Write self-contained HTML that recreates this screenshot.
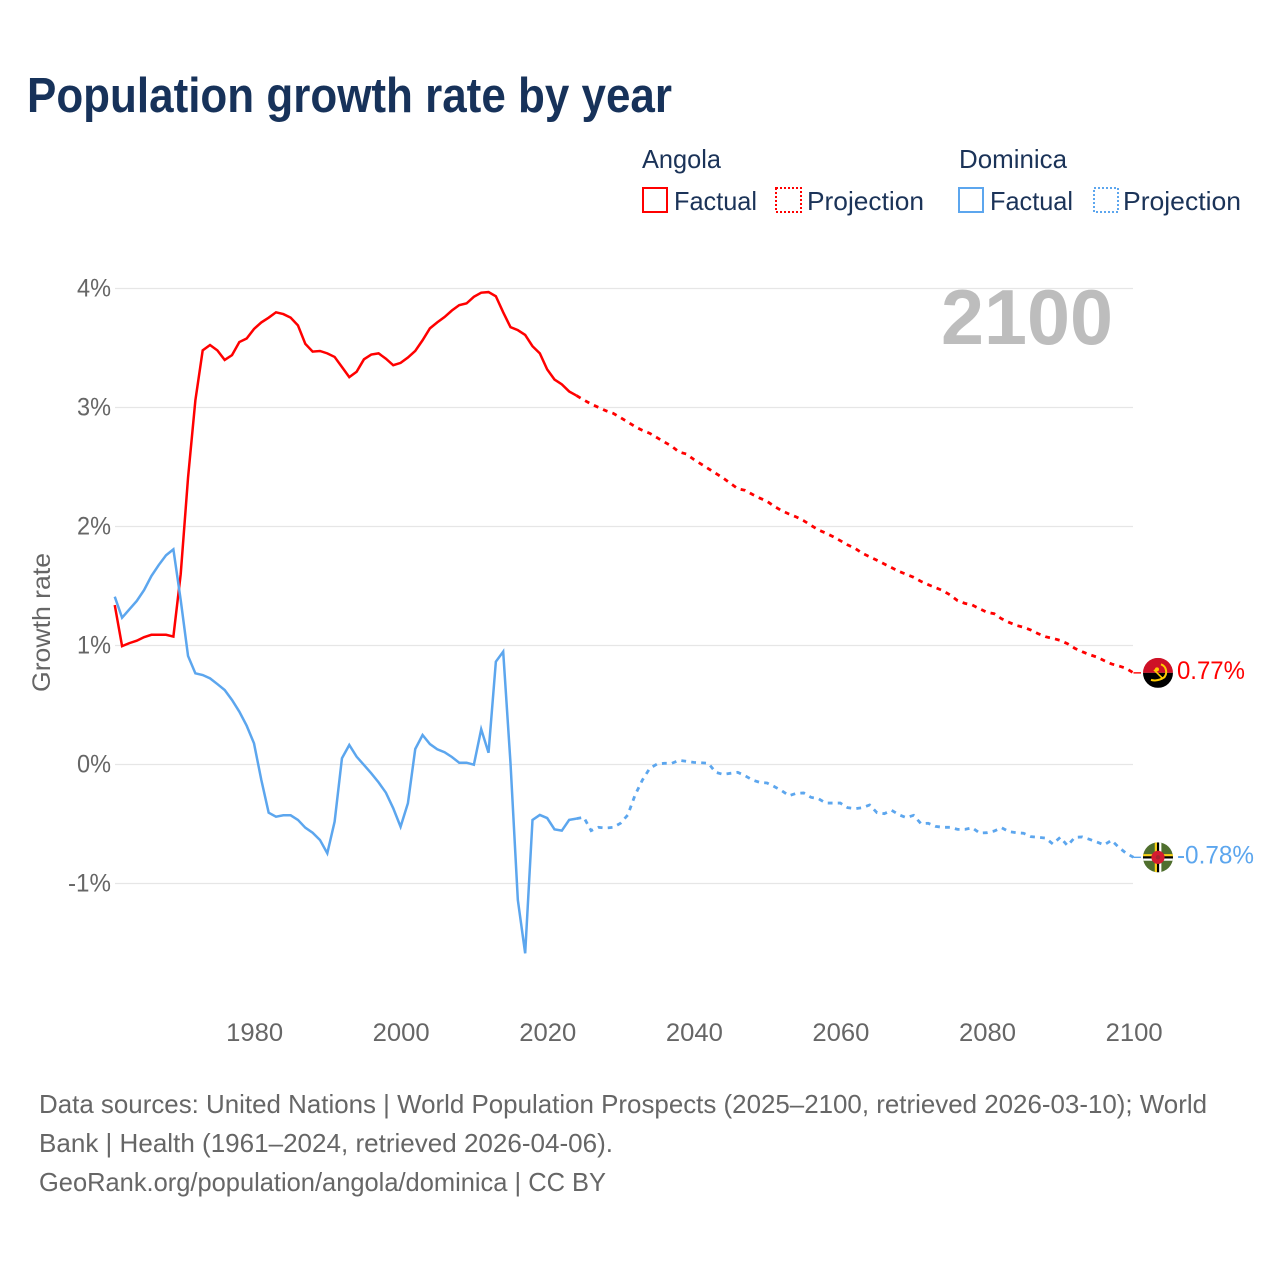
<!DOCTYPE html>
<html lang="en">
<head>
<meta charset="utf-8">
<title>Population growth rate by year</title>
<style>
  html, body { margin: 0; padding: 0; background: #fff; }
  svg { display: block; font-family: "Liberation Sans", sans-serif; }
</style>
</head>
<body>
<svg id="chart" xmlns="http://www.w3.org/2000/svg" width="1280" height="1280" viewBox="0 0 1280 1280">
  <rect x="0" y="0" width="1280" height="1280" fill="#ffffff"/>
  <text x="27" y="112" font-size="49" font-weight="700" fill="#17325a" textLength="645" lengthAdjust="spacingAndGlyphs">Population growth rate by year</text>

  <g font-size="26" fill="#1b3358">
    <text x="642" y="168" textLength="79" lengthAdjust="spacingAndGlyphs">Angola</text>
    <text x="959" y="168" textLength="108" lengthAdjust="spacingAndGlyphs">Dominica</text>
    <g>
      <rect x="643" y="188" width="24" height="24" fill="none" stroke="#ff0000" stroke-width="2"/>
      <text x="674" y="210" textLength="83" lengthAdjust="spacingAndGlyphs">Factual</text>
    </g>
    <g>
      <rect x="776" y="188" width="25" height="24" fill="none" stroke="#ff0000" stroke-width="2" stroke-dasharray="2 2"/>
      <text x="807" y="210" textLength="117" lengthAdjust="spacingAndGlyphs">Projection</text>
    </g>
    <g>
      <rect x="959" y="188" width="24" height="24" fill="none" stroke="#5ca6ee" stroke-width="2"/>
      <text x="990" y="210" textLength="83" lengthAdjust="spacingAndGlyphs">Factual</text>
    </g>
    <g>
      <rect x="1094" y="188" width="24" height="24" fill="none" stroke="#5ca6ee" stroke-width="2" stroke-dasharray="2 2"/>
      <text x="1123" y="210" textLength="118" lengthAdjust="spacingAndGlyphs">Projection</text>
    </g>
  </g>

  <g id="grid"></g>
  <g id="yticks" font-size="25" fill="#666666" text-anchor="end"></g>
  <g id="xticks" font-size="25" fill="#666666" text-anchor="middle"></g>
  <text transform="translate(50 622.5) rotate(-90)" text-anchor="middle" font-size="25" fill="#666666" textLength="139" lengthAdjust="spacingAndGlyphs">Growth rate</text>

  <text x="941" y="344" font-size="78" font-weight="700" fill="#bdbdbd" textLength="172" lengthAdjust="spacingAndGlyphs">2100</text>

  <g id="series"></g>

  <defs>
    <clipPath id="flag-clip"><circle cx="0" cy="0" r="15"/></clipPath>
  </defs>
  <g id="flag-angola" clip-path="url(#flag-clip)">
    <rect x="-15" y="-15" width="30" height="15" fill="#ce1126"/>
    <rect x="-15" y="0" width="30" height="15" fill="#000000"/>
    <path d="M3 -8.5 A8 8 0 0 1 5.5 5" fill="none" stroke="#ffcb00" stroke-width="2"/>
    <path d="M-7 7 Q0 9 7 4" fill="none" stroke="#ffcb00" stroke-width="2"/>
    <path d="M-4 -3 L4 5" stroke="#ffcb00" stroke-width="1.6"/>
    <circle cx="-1" cy="-3.5" r="2" fill="#ffcb00"/>
  </g>
  <g id="flag-dominica" clip-path="url(#flag-clip)">
    <rect x="-15" y="-15" width="30" height="30" fill="#4f6f2e"/>
    <rect x="-15" y="-3.2" width="30" height="2.2" fill="#fcd116"/>
    <rect x="-15" y="-1" width="30" height="2.2" fill="#000000"/>
    <rect x="-15" y="1.2" width="30" height="2.2" fill="#ffffff"/>
    <rect x="-3.2" y="-15" width="2.2" height="30" fill="#fcd116"/>
    <rect x="-1" y="-15" width="2.2" height="30" fill="#000000"/>
    <rect x="1.2" y="-15" width="2.2" height="30" fill="#ffffff"/>
    <circle cx="0" cy="0" r="6.6" fill="#d41c30"/>
    <circle cx="0" cy="0" r="2.2" fill="#a8232f"/>
  </g>
  <text id="label-angola" font-size="25" fill="#ff0000" textLength="68" lengthAdjust="spacingAndGlyphs"></text>
  <text id="label-dominica" font-size="25" fill="#5ca6ee" textLength="77" lengthAdjust="spacingAndGlyphs"></text>

  <g font-size="26" fill="#666666">
    <text x="39" y="1113" textLength="1168" lengthAdjust="spacingAndGlyphs">Data sources: United Nations | World Population Prospects (2025–2100, retrieved 2026-03-10); World</text>
    <text x="39" y="1152" textLength="574" lengthAdjust="spacingAndGlyphs">Bank | Health (1961–2024, retrieved 2026-04-06).</text>
    <text x="39" y="1191" textLength="567" lengthAdjust="spacingAndGlyphs">GeoRank.org/population/angola/dominica | CC BY</text>
  </g>
</svg>

<script>
const factualStartYear = 1961;
const projectionStartYear = 2025;
const yTickValues = [4, 3, 2, 1, 0, -1];
const yTickLabels = ["4%", "3%", "2%", "1%", "0%", "-1%"];
const xTickYears = [1980, 2000, 2020, 2040, 2060, 2080, 2100];
const xTickLabels = ["1980", "2000", "2020", "2040", "2060", "2080", "2100"];
const endLabelAngola = "0.77%";
const endLabelDominica = "-0.78%";

const angolaFactual = [
  1.34, 0.995, 1.02, 1.04, 1.07, 1.09, 1.09, 1.09, 1.075, 1.60,
  2.41, 3.06, 3.48, 3.525, 3.48, 3.40, 3.44, 3.55, 3.58, 3.66,
  3.715, 3.755, 3.80, 3.785, 3.755, 3.69, 3.535, 3.47, 3.475, 3.455,
  3.425, 3.34, 3.255, 3.30, 3.405, 3.445, 3.455, 3.41, 3.355, 3.375,
  3.42, 3.475, 3.565, 3.665, 3.715, 3.76, 3.815, 3.86, 3.875, 3.93,
  3.965, 3.97, 3.935, 3.80, 3.675, 3.65, 3.61, 3.515, 3.455, 3.32,
  3.235, 3.195, 3.135, 3.10
];
const angolaProjection = [
  3.063, 3.029, 3.001, 2.973, 2.951, 2.915, 2.878, 2.839, 2.808, 2.783,
  2.746, 2.710, 2.674, 2.626, 2.609, 2.564, 2.525, 2.486, 2.447, 2.408,
  2.363, 2.318, 2.304, 2.270, 2.239, 2.212, 2.169, 2.133, 2.105, 2.080,
  2.049, 2.010, 1.971, 1.945, 1.915, 1.881, 1.845, 1.817, 1.775, 1.746,
  1.716, 1.685, 1.654, 1.623, 1.598, 1.573, 1.539, 1.511, 1.486, 1.461,
  1.424, 1.377, 1.354, 1.340, 1.309, 1.279, 1.267, 1.225, 1.195, 1.169,
  1.153, 1.130, 1.099, 1.074, 1.060, 1.043, 1.015, 0.976, 0.948, 0.923,
  0.903, 0.873, 0.845, 0.828, 0.808, 0.77
];
const dominicaFactual = [
  1.41, 1.234, 1.304, 1.374, 1.466, 1.584, 1.676, 1.758, 1.808, 1.382,
  0.912, 0.766, 0.752, 0.724, 0.676, 0.626, 0.542, 0.444, 0.326, 0.178,
  -0.13, -0.405, -0.439, -0.427, -0.427, -0.466, -0.531, -0.573, -0.634, -0.746,
  -0.48, 0.052, 0.164, 0.066, -0.004, -0.074, -0.15, -0.237, -0.368, -0.523,
  -0.326, 0.13, 0.248, 0.172, 0.128, 0.103, 0.063, 0.015, 0.015, -0.002,
  0.296, 0.099, 0.864, 0.948, 0.01, -1.139, -1.587, -0.466, -0.424, -0.45,
  -0.545, -0.556, -0.466, -0.455
];
const dominicaProjection = [
  -0.444, -0.556, -0.528, -0.534, -0.528, -0.494, -0.424, -0.256, -0.130, -0.032,
  0.004, 0.01, 0.01, 0.035, 0.027, 0.018, 0.015, 0.01, -0.066, -0.083,
  -0.074, -0.066, -0.094, -0.130, -0.150, -0.155, -0.186, -0.220, -0.262, -0.242,
  -0.239, -0.276, -0.287, -0.324, -0.324, -0.324, -0.363, -0.371, -0.363, -0.340,
  -0.405, -0.413, -0.385, -0.422, -0.447, -0.427, -0.497, -0.494, -0.520, -0.528,
  -0.528, -0.545, -0.545, -0.531, -0.576, -0.573, -0.559, -0.531, -0.564, -0.573,
  -0.578, -0.606, -0.612, -0.618, -0.668, -0.612, -0.682, -0.612, -0.609, -0.629,
  -0.651, -0.676, -0.637, -0.696, -0.746, -0.78
];

const SVG_NS = "http://www.w3.org/2000/svg";
const RED = "#ff0000";
const BLUE = "#5ca6ee";
function xScale(year) { return 254 + (year - 1980) * 7.329; }
function yScale(value) { return 764.5 - value * 119; }

const gridGroup = document.getElementById("grid");
const yTickGroup = document.getElementById("yticks");
const xTickGroup = document.getElementById("xticks");
const seriesGroup = document.getElementById("series");

yTickValues.forEach(function (value, i) {
  const line = document.createElementNS(SVG_NS, "line");
  
  
  line.setAttribute("x1", 115);
  line.setAttribute("x2", 1133);
  line.setAttribute("y1", yScale(value));
  line.setAttribute("y2", yScale(value));
  line.setAttribute("stroke", "#e6e6e6");
  line.setAttribute("stroke-width", 1.2);
  gridGroup.appendChild(line);

  const label = document.createElementNS(SVG_NS, "text");
  
  
  label.setAttribute("x", 111);
  label.setAttribute("y", yScale(value) + 8);
  label.setAttribute("textLength", yTickLabels[i].length === 3 ? 43 : 34);
  label.setAttribute("lengthAdjust", "spacingAndGlyphs");
  label.textContent = yTickLabels[i];
  yTickGroup.appendChild(label);
});

xTickYears.forEach(function (year, i) {
  const label = document.createElementNS(SVG_NS, "text");
  
  
  label.setAttribute("x", xScale(year) + 0.6);
  label.setAttribute("y", 1041);
  label.setAttribute("textLength", 57);
  label.setAttribute("lengthAdjust", "spacingAndGlyphs");
  label.textContent = xTickLabels[i];
  xTickGroup.appendChild(label);
});

function buildPath(startYear, values, priorYear, priorValue) {
  let d = "";
  if (priorYear !== null) {
    d = "M" + xScale(priorYear).toFixed(2) + " " + yScale(priorValue).toFixed(2);
  }
  values.forEach(function (value, i) {
    const cmd = d === "" ? "M" : "L";
    d += cmd + xScale(startYear + i).toFixed(2) + " " + yScale(value).toFixed(2);
  });
  return d;
}

const angolaSolid = document.createElementNS(SVG_NS, "path");


angolaSolid.setAttribute("d", buildPath(factualStartYear, angolaFactual, null, null));
angolaSolid.setAttribute("fill", "none");
angolaSolid.setAttribute("stroke", RED);
angolaSolid.setAttribute("stroke-width", 2.5);
seriesGroup.appendChild(angolaSolid);

const angolaDashed = document.createElementNS(SVG_NS, "path");


angolaDashed.setAttribute("d", buildPath(projectionStartYear, angolaProjection, projectionStartYear - 1, angolaFactual[angolaFactual.length - 1]));
angolaDashed.setAttribute("fill", "none");
angolaDashed.setAttribute("stroke", RED);
angolaDashed.setAttribute("stroke-width", 2.8);
angolaDashed.setAttribute("stroke-dasharray", "4.8 5.2");
seriesGroup.appendChild(angolaDashed);

const dominicaSolid = document.createElementNS(SVG_NS, "path");


dominicaSolid.setAttribute("d", buildPath(factualStartYear, dominicaFactual, null, null));
dominicaSolid.setAttribute("fill", "none");
dominicaSolid.setAttribute("stroke", BLUE);
dominicaSolid.setAttribute("stroke-width", 2.5);
seriesGroup.appendChild(dominicaSolid);

const dominicaDashed = document.createElementNS(SVG_NS, "path");


dominicaDashed.setAttribute("d", buildPath(projectionStartYear, dominicaProjection, projectionStartYear - 1, dominicaFactual[dominicaFactual.length - 1]));
dominicaDashed.setAttribute("fill", "none");
dominicaDashed.setAttribute("stroke", BLUE);
dominicaDashed.setAttribute("stroke-width", 2.8);
dominicaDashed.setAttribute("stroke-dasharray", "4.8 5.2");
seriesGroup.appendChild(dominicaDashed);

const lastYear = projectionStartYear + angolaProjection.length - 1;
const angolaEndY = yScale(angolaProjection[angolaProjection.length - 1]);
const dominicaEndY = yScale(dominicaProjection[dominicaProjection.length - 1]);

const angolaLeader = document.createElementNS(SVG_NS, "line");


angolaLeader.setAttribute("x1", xScale(lastYear));
angolaLeader.setAttribute("x2", xScale(lastYear) + 7.5);
angolaLeader.setAttribute("y1", angolaEndY);
angolaLeader.setAttribute("y2", angolaEndY);
angolaLeader.setAttribute("stroke", RED);
angolaLeader.setAttribute("stroke-width", 1.4);
seriesGroup.appendChild(angolaLeader);

const dominicaLeader = document.createElementNS(SVG_NS, "line");


dominicaLeader.setAttribute("x1", xScale(lastYear));
dominicaLeader.setAttribute("x2", xScale(lastYear) + 7.5);
dominicaLeader.setAttribute("y1", dominicaEndY);
dominicaLeader.setAttribute("y2", dominicaEndY);
dominicaLeader.setAttribute("stroke", BLUE);
dominicaLeader.setAttribute("stroke-width", 1.4);
seriesGroup.appendChild(dominicaLeader);

document.getElementById("flag-angola").setAttribute("transform", "translate(" + (xScale(lastYear) + 24.5) + " " + angolaEndY + ")");
document.getElementById("flag-dominica").setAttribute("transform", "translate(" + (xScale(lastYear) + 24.5) + " " + dominicaEndY + ")");

const labelAngola = document.getElementById("label-angola");
labelAngola.setAttribute("x", xScale(lastYear) + 43.5);
labelAngola.setAttribute("y", angolaEndY + 6);
labelAngola.textContent = endLabelAngola;

const labelDominica = document.getElementById("label-dominica");
labelDominica.setAttribute("x", xScale(lastYear) + 43.5);
labelDominica.setAttribute("y", dominicaEndY + 6);
labelDominica.textContent = endLabelDominica;
</script>
</body>
</html>
